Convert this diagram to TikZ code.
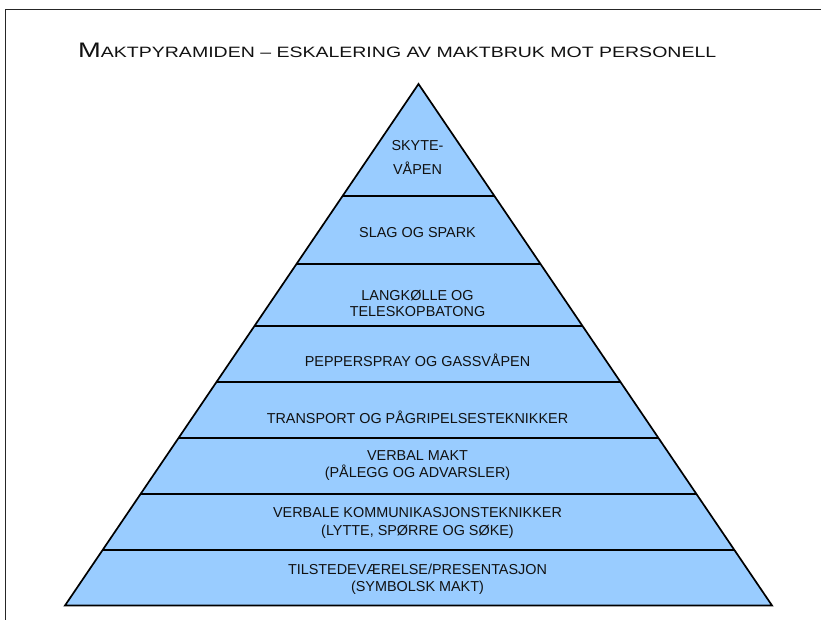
\documentclass[tikz,border=0pt]{standalone}
\usepackage{fontspec}
\usepackage{graphicx}
\setmainfont{Liberation Sans}
\usetikzlibrary{calc}
\definecolor{pyrblue}{HTML}{99CCFF}
\definecolor{txt}{HTML}{111111}
\begin{document}
\begin{tikzpicture}[x=1pt,y=-1pt,
  lbl/.style={anchor=base, font=\fontsize{14.4}{17}\selectfont, text=txt, inner sep=0pt},
  edgeline/.style={line width=1.7pt, line join=miter, draw=black},
  frameline/.style={line width=1.8pt, draw=black!85}]
\useasboundingbox (0,0) rectangle (821,620);
% frame
\coordinate (F1) at (5.5,620);
\coordinate (F2) at (5.5,9.5);
\coordinate (F3) at (821,9.5);
\draw[frameline] (F1) -- (F2) -- (F3);
% title
\node[anchor=base west, inner sep=0pt, text=txt] (title) at (78,57.3)
  {\resizebox{638pt}{\height}{\fontsize{21}{21}\selectfont M\fontsize{15}{15}\selectfont AKTPYRAMIDEN – ESKALERING AV MAKTBRUK MOT PERSONELL}};
% pyramid
\coordinate (A) at (418.5,84);
\coordinate (BL) at (65,605.5);
\coordinate (BR) at (772,605.5);
\fill[pyrblue] (A) -- (BL) -- (BR) -- cycle;
\foreach \t [count=\i] in {0.2148,0.3452,0.4640,0.5714,0.6788,0.7862,0.8936} {
  \coordinate (L\i) at ($(A)!\t!(BL)$);
  \coordinate (R\i) at ($(A)!\t!(BR)$);
  \draw[edgeline] (L\i) -- (R\i);
}
\draw[edgeline] (A) -- (BL) -- (BR) -- cycle;
% labels
\node[lbl] (t1a) at (417.5,150.7) {SKYTE-};
\node[lbl] (t1b) at (417.5,175) {VÅPEN};
\node[lbl] (t2) at (417.5,237.3) {SLAG OG SPARK};
\node[lbl] (t3a) at (417.5,300) {LANGKØLLE OG};
\node[lbl] (t3b) at (417.5,316.5) {TELESKOPBATONG};
\node[lbl] (t4) at (417.5,366.7) {PEPPERSPRAY OG GASSVÅPEN};
\node[lbl] (t5) at (417.5,423.3) {TRANSPORT OG PÅGRIPELSESTEKNIKKER};
\node[lbl] (t6a) at (417.5,460.7) {VERBAL MAKT};
\node[lbl] (t6b) at (417.5,477.3) {(PÅLEGG OG ADVARSLER)};
\node[lbl] (t7a) at (417.5,517.7) {VERBALE KOMMUNIKASJONSTEKNIKKER};
\node[lbl] (t7b) at (417.5,535) {(LYTTE, SPØRRE OG SØKE)};
\node[lbl] (t8a) at (417.5,574) {TILSTEDEVÆRELSE/PRESENTASJON};
\node[lbl] (t8b) at (417.5,591.5) {(SYMBOLSK MAKT)};
\end{tikzpicture}
\end{document}
